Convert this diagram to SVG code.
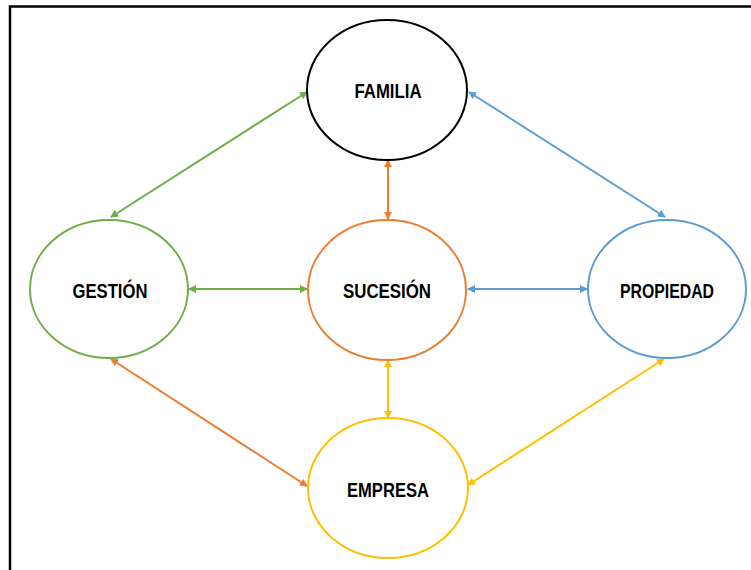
<svg xmlns="http://www.w3.org/2000/svg" width="751" height="570" viewBox="0 0 751 570">
<style>
.n{fill:#fff;stroke-width:2}
.t{font-family:"Liberation Sans",Arial,sans-serif;font-weight:bold;font-size:20px;fill:#000;text-anchor:middle}
.c{fill:none;stroke-width:2}
</style>
<defs>
<marker id="ag" viewBox="0 0 8 8" refX="7" refY="4" markerWidth="4" markerHeight="4" orient="auto-start-reverse"><path d="M0,0L8,4L0,8z" fill="#70AD47"/></marker>
<marker id="ab" viewBox="0 0 8 8" refX="7" refY="4" markerWidth="4" markerHeight="4" orient="auto-start-reverse"><path d="M0,0L8,4L0,8z" fill="#5B9BD5"/></marker>
<marker id="ao" viewBox="0 0 8 8" refX="7" refY="4" markerWidth="4" markerHeight="4" orient="auto-start-reverse"><path d="M0,0L8,4L0,8z" fill="#ED7D31"/></marker>
<marker id="ay" viewBox="0 0 8 8" refX="7" refY="4" markerWidth="4" markerHeight="4" orient="auto-start-reverse"><path d="M0,0L8,4L0,8z" fill="#FFC000"/></marker>
</defs>
<rect x="0" y="0" width="751" height="570" fill="#fff"/>
<rect x="10" y="6.5" width="760" height="600" fill="none" stroke="#000" stroke-width="2.5"/>
<g id="connectors">
<line class="c" x1="307" y1="92" x2="111" y2="217" stroke="#70AD47" marker-start="url(#ag)" marker-end="url(#ag)"/>
<line class="c" x1="469" y1="92" x2="665" y2="217" stroke="#5B9BD5" marker-start="url(#ab)" marker-end="url(#ab)"/>
<line class="c" x1="111" y1="359" x2="307" y2="486" stroke="#ED7D31" marker-start="url(#ao)" marker-end="url(#ao)"/>
<line class="c" x1="664" y1="359" x2="468" y2="485" stroke="#FFC000" marker-start="url(#ay)" marker-end="url(#ay)"/>
<line class="c" x1="388" y1="160" x2="388" y2="219" stroke="#ED7D31" marker-start="url(#ao)" marker-end="url(#ao)"/>
<line class="c" x1="189" y1="289" x2="307" y2="289" stroke="#70AD47" marker-start="url(#ag)" marker-end="url(#ag)"/>
<line class="c" x1="468" y1="289" x2="587" y2="289" stroke="#5B9BD5" marker-start="url(#ab)" marker-end="url(#ab)"/>
<line class="c" x1="388" y1="360" x2="388" y2="418" stroke="#FFC000" marker-start="url(#ay)" marker-end="url(#ay)"/>
</g>
<g id="familia"><ellipse class="n" cx="387" cy="90" rx="80" ry="70" stroke="#000"/><text class="t" x="388" y="98" textLength="67" lengthAdjust="spacingAndGlyphs">FAMILIA</text></g>
<g id="sucesion"><ellipse class="n" cx="387" cy="290" rx="79" ry="70" stroke="#ED7D31"/><text class="t" x="387" y="298" textLength="88" lengthAdjust="spacingAndGlyphs">SUCESIÓN</text></g>
<g id="gestion"><ellipse class="n" cx="109" cy="289" rx="79" ry="69" stroke="#70AD47"/><text class="t" x="110" y="298" textLength="75" lengthAdjust="spacingAndGlyphs">GESTIÓN</text></g>
<g id="propiedad"><ellipse class="n" cx="667" cy="289" rx="79" ry="69" stroke="#5B9BD5"/><text class="t" x="667" y="298" textLength="94" lengthAdjust="spacingAndGlyphs">PROPIEDAD</text></g>
<g id="empresa"><ellipse class="n" cx="388" cy="488" rx="80" ry="70" stroke="#FFC000"/><text class="t" x="388" y="497" textLength="82" lengthAdjust="spacingAndGlyphs">EMPRESA</text></g>
</svg>
